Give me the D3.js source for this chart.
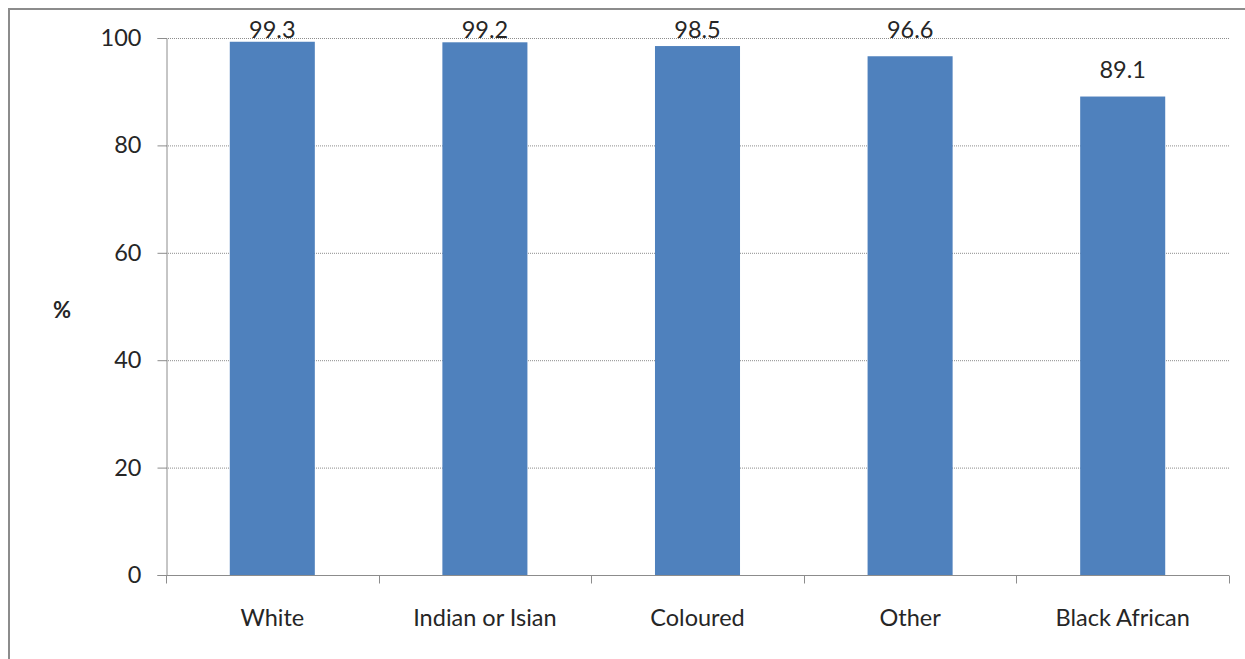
<!DOCTYPE html>
<html><head><meta charset="utf-8">
<script src="https://cdn.jsdelivr.net/npm/d3@7"></script>
<style>
html,body{margin:0;padding:0;background:#fff;}
svg{display:block;font-family:Lato,"Open Sans",sans-serif;}
</style></head>
<body>
<svg id="c" width="1245" height="659"></svg>
<script>
const categories = ["White", "Indian or Isian", "Coloured", "Other", "Black African"];
const values = [99.3, 99.2, 98.5, 96.6, 89.1];
const yTicks = [0, 20, 40, 60, 80, 100];
const yLabel = "%";

const svg = d3.select("#c");
const W = 1245, H = 659;
const m = {left: 166, right: 16, top: 38, bottom: 84};
const FS = 23.5;
const TXT = "#262626";

// chart frame
svg.append("rect").attr("x", 9).attr("y", 9).attr("width", W + 20).attr("height", H + 20)
  .attr("fill", "#fff").attr("stroke", "#8c8c8c").attr("stroke-width", 2);

const x = d3.scaleBand().domain(categories).range([m.left, W - m.right]).paddingInner(0.6).paddingOuter(0.3);
const y = d3.scaleLinear().domain([0, 100]).range([H - m.bottom, m.top]);

// gridlines
svg.append("g").selectAll("line").data(yTicks.filter(d => d > 0)).join("line")
  .attr("x1", m.left).attr("x2", W - m.right)
  .attr("y1", d => y(d) + 0.5).attr("y2", d => y(d) + 0.5)
  .attr("stroke", "#8c8c8c").attr("stroke-width", 1).attr("stroke-dasharray", "1,1");

// bars
svg.append("g").selectAll("rect").data(values).join("rect")
  .attr("x", (d, i) => x(categories[i]))
  .attr("y", d => y(d))
  .attr("width", x.bandwidth())
  .attr("height", d => y(0) - y(d))
  .attr("fill", "#4F81BD");

// value labels
svg.append("g").selectAll("text").data(values).join("text")
  .attr("x", (d, i) => x(categories[i]) + x.bandwidth() / 2)
  .attr("y", d => Math.max(y(d) - 19, 38))
  .attr("text-anchor", "middle").attr("font-size", FS).attr("fill", TXT)
  .text(d => d.toFixed(1));

// y axis
const ya = svg.append("g").attr("transform", `translate(${m.left + 0.5},0)`)
  .call(d3.axisLeft(y).tickValues(yTicks).tickSize(9).tickPadding(16));
ya.select(".domain").attr("stroke", "#8c8c8c");
ya.selectAll(".tick line").attr("stroke", "#8c8c8c");
ya.selectAll(".tick text").attr("font-size", FS).attr("fill", TXT).attr("font-family", "Lato,'Open Sans',sans-serif");

// x axis
const xa = svg.append("g").attr("transform", `translate(0,${y(0) + 0.5})`);
xa.append("line").attr("x1", m.left).attr("x2", W - m.right).attr("stroke", "#8c8c8c");
const bounds = d3.range(categories.length + 1).map(i => m.left + (W - m.right - m.left) * i / categories.length);
xa.selectAll(".tk").data(bounds).join("line").attr("class", "tk")
  .attr("x1", d => Math.round(d) + 0.5).attr("x2", d => Math.round(d) + 0.5)
  .attr("y1", 0).attr("y2", 8).attr("stroke", "#8c8c8c");
xa.selectAll("text").data(categories).join("text")
  .attr("x", d => x(d) + x.bandwidth() / 2).attr("y", 50)
  .attr("text-anchor", "middle").attr("font-size", FS).attr("fill", TXT)
  .text(d => d);

// y label
svg.append("text").attr("x", 62).attr("y", 318).attr("text-anchor", "middle")
  .attr("font-size", 22).attr("font-weight", "bold").attr("fill", TXT).text(yLabel);
</script>
</body></html>
